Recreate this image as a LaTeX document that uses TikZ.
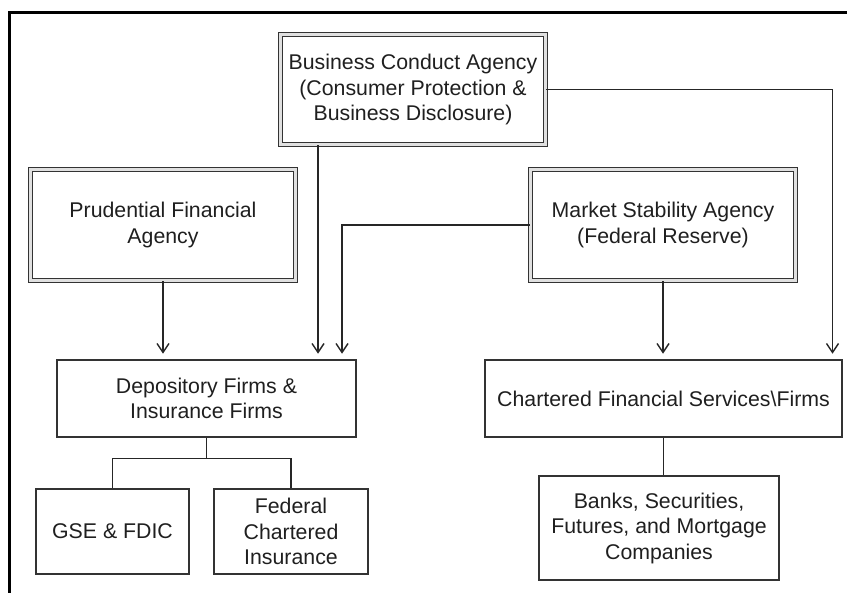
\documentclass[tikz,border=0pt]{standalone}
\usepackage{fontspec}
\setmainfont{Liberation Sans}
\usetikzlibrary{arrows.meta,calc}
\begin{document}
\begin{tikzpicture}[x=1pt,y=-1pt,
  txt/.style={font=\fontsize{21.3}{25.5}\selectfont, text=black!88, align=center},
  dbox/.style={txt, draw=black!80, line width=1.2pt, double=black!12, double distance=2.2pt, rectangle, inner sep=0pt},
  sbox/.style={txt, draw=black!80, line width=1.5pt, rectangle, inner sep=0pt},
  conn/.style={draw=black!85, line width=1.5pt},
  arr/.style={conn, -{Straight Barb[length=9pt,width=12pt,line width=1.4pt]}, shorten >=5.5pt}
]
\useasboundingbox (0,0) rectangle (847,593);
% frame
\draw[line width=3pt, line cap=rect] (9,600) -- (9,13) -- (860,13);

% nodes
\node[dbox, minimum width=265pt, minimum height=110pt] (bca) at (413,89.5)
  {Business Conduct Agency\\(Consumer Protection \&\\Business Disclosure)};
\node[dbox, minimum width=265pt, minimum height=111pt] (pru) at (163,225)
  {Prudential Financial\\Agency};
\node[dbox, minimum width=265pt, minimum height=111pt] (msa) at (663,225)
  {Market Stability Agency\\(Federal Reserve)};
\node[sbox, minimum width=299pt, minimum height=77pt] (dep) at (206.5,398.5)
  {Depository Firms \&\\Insurance Firms};
\node[sbox, minimum width=357pt, minimum height=77pt] (chart) at (663.5,398.5)
  {Chartered Financial Services\textbackslash Firms};
\node[sbox, minimum width=153pt, minimum height=85pt] (gse) at (112.5,531.5)
  {GSE \& FDIC};
\node[sbox, minimum width=154pt, minimum height=85pt] (fci) at (291,531.5)
  {Federal\\Chartered\\Insurance};
\node[sbox, minimum width=240pt, minimum height=104pt] (banks) at (659,528)
  {Banks, Securities,\\Futures, and Mortgage\\Companies};

% connectors
\draw[arr] (pru.south) -- (pru.south |- dep.north);
\draw[arr] ([xshift=-95pt]bca.south) -- ([xshift=-95pt]bca.south |- dep.north);
\draw[arr] (msa.west) -| ([xshift=135.5pt]dep.north);
\draw[arr] (msa.south) -- (msa.south |- chart.north);
\draw[arr] (bca.east) -| ([xshift=169pt]chart.north);
\draw[conn] (dep.south) -- ++(0,21) coordinate (dj) -| (gse.north);
\draw[conn] (dj) -| (fci.north);
\draw[conn] (chart.south) -- (chart.south |- banks.north);
\end{tikzpicture}
\end{document}
